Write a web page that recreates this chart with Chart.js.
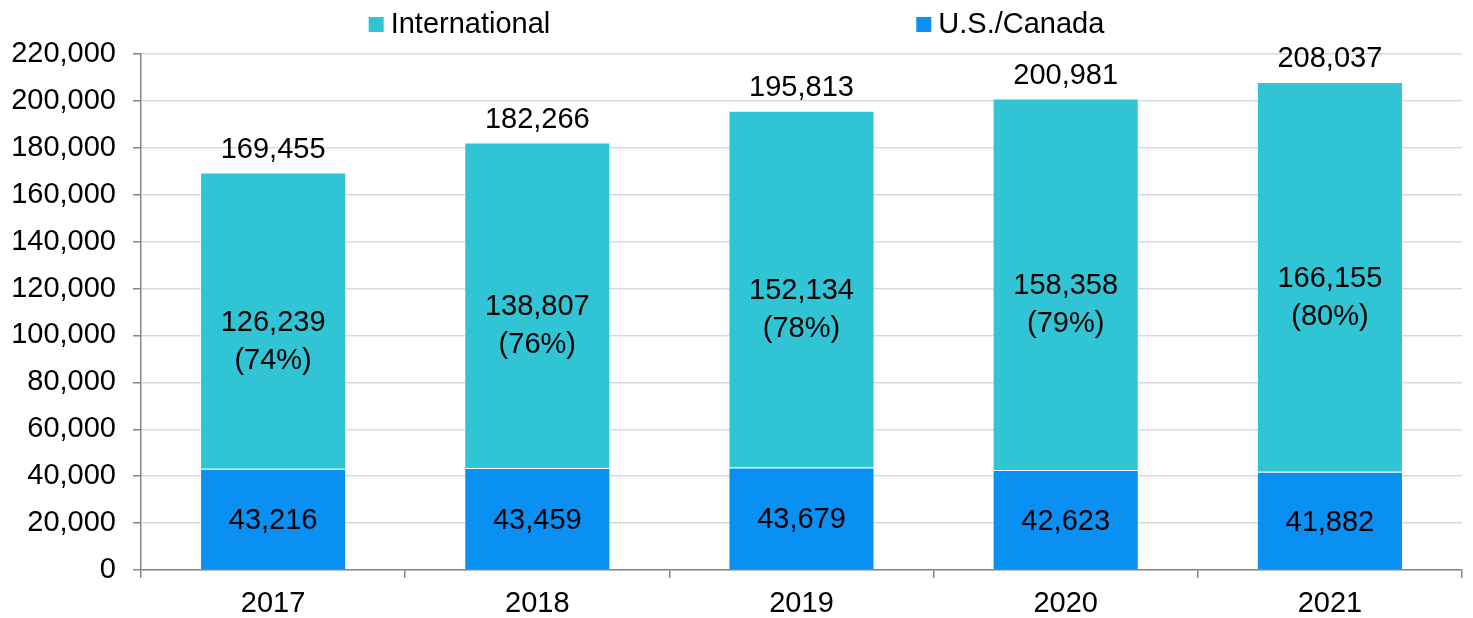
<!DOCTYPE html>
<html>
<head>
<meta charset="utf-8">
<title>Enrollment by region</title>
<script src="https://cdn.jsdelivr.net/npm/chart.js@4/dist/chart.umd.min.js"></script>
<style>
  html, body { margin: 0; padding: 0; background: #fff; }
  #wrap { width: 1473px; height: 618px; position: relative; }
</style>
</head>
<body>
<div id="wrap"><canvas id="bar-chart"></canvas></div>
<script>
var years = ['2017', '2018', '2019', '2020', '2021'];
var usCanada = [43216, 43459, 43679, 42623, 41882];
var international = [126239, 138807, 152134, 158358, 166155];

var fmt = function (v) { return v.toLocaleString('en-US'); };
var FONT = '29px "Liberation Sans", Arial, sans-serif';

Chart.defaults.font.family = '"Liberation Sans", Arial, sans-serif';
Chart.defaults.color = '#000';

// value labels: totals on top, counts inside each segment
var barLabels = {
    id: 'barLabels',
    afterDatasetsDraw: function (chart) {
        var ctx = chart.ctx;
        var usMeta = chart.getDatasetMeta(1);
        var intlMeta = chart.getDatasetMeta(0);
        ctx.save();
        ctx.font = FONT;
        ctx.fillStyle = '#000';
        ctx.textAlign = 'center';
        ctx.textBaseline = 'middle';
        years.forEach(function (y, i) {
            var us = usMeta.data[i];
            var intl = intlMeta.data[i];
            var total = usCanada[i] + international[i];
            var pct = Math.round(international[i] / total * 100);
            ctx.fillText(fmt(usCanada[i]), us.x, (us.y + us.base) / 2 + 2);
            var mid = (intl.y + intl.base) / 2;
            ctx.fillText(fmt(international[i]), intl.x, mid + 2);
            ctx.fillText('(' + pct + '%)', intl.x, mid + 40);
            ctx.fillText(fmt(total), intl.x, intl.y - 23);
        });
        ctx.restore();
    }
};

// simple legend row across the top, wide gap between the two entries
var topLegend = {
    id: 'topLegend',
    afterDraw: function (chart) {
        var ctx = chart.ctx;
        var ds = chart.data.datasets;
        var box = 15, gap = 7, spacing = 366;
        ctx.save();
        ctx.font = FONT;
        var widths = ds.map(function (d) { return box + gap + ctx.measureText(d.label).width; });
        var total = widths.reduce(function (a, b) { return a + b; }, 0) + spacing * (ds.length - 1);
        var x = (chart.width - total) / 2;
        var cy = 25;
        ctx.textBaseline = 'middle';
        ctx.textAlign = 'left';
        ds.forEach(function (d, i) {
            ctx.fillStyle = d.backgroundColor;
            ctx.fillRect(x, cy - 8, box, box);
            ctx.fillStyle = '#000';
            ctx.fillText(d.label, x + box + gap, cy);
            x += widths[i] + spacing;
        });
        ctx.restore();
    }
};

var ctx = document.getElementById('bar-chart').getContext('2d');
var barChart = new Chart(ctx, {
    type: 'bar',
    data: {
        labels: years,
        datasets: [
            {
                label: 'International',
                data: international,
                backgroundColor: '#31c4d5',
                borderColor: 'rgba(255, 255, 255, 0.35)',
                borderWidth: 1,
                borderSkipped: 'start',
                order: 2
            },
            {
                label: 'U.S./Canada',
                data: usCanada,
                backgroundColor: '#0a8ff2',
                borderColor: 'rgba(255, 255, 255, 0.35)',
                borderWidth: 1,
                borderSkipped: 'start',
                order: 1
            }
        ]
    },
    options: {
        responsive: true,
        maintainAspectRatio: false,
        animation: false,
        categoryPercentage: 1,
        barPercentage: 0.553,
        layout: { padding: { left: 0, right: 11, top: 54, bottom: 0 } },
        scales: {
            x: {
                stacked: true,
                afterFit: function (scale) { scale.height = 48; },
                border: { color: '#868686', width: 1.5 },
                grid: {
                    drawOnChartArea: false,
                    tickLength: 8,
                    color: '#868686',
                    lineWidth: 1.5
                },
                ticks: { font: { size: 29 }, padding: 9 }
            },
            y: {
                stacked: true,
                min: 0,
                max: 220000,
                afterFit: function (scale) { scale.width = 141; },
                border: { color: '#868686', width: 1.5 },
                grid: {
                    color: '#d9d9d9',
                    lineWidth: 1.5,
                    tickColor: '#868686',
                    tickLength: 8
                },
                ticks: {
                    stepSize: 20000,
                    autoSkip: false,
                    font: { size: 29 },
                    padding: 17,
                    callback: function (v) { return fmt(v); }
                }
            }
        },
        plugins: {
            legend: { display: false },
            tooltip: { enabled: false }
        }
    },
    plugins: [barLabels, topLegend]
});
</script>
</body>
</html>
